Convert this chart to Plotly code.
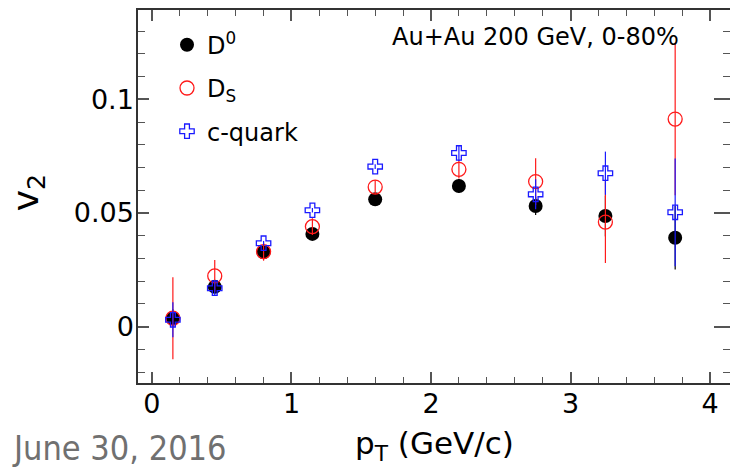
import plotly.graph_objects as go

# ---- data ----
pt = [0.15, 0.45, 0.80, 1.15, 1.60, 2.20, 2.75, 3.25, 3.75]

d0_v2 = [0.0037, 0.0175, 0.0327, 0.0408, 0.0560, 0.0619, 0.0531, 0.0487, 0.0391]
d0_err = [0.004, 0.002, 0.002, 0.002, 0.002, 0.003, 0.004, 0.009, 0.014]

ds_v2 = [0.0037, 0.0223, 0.0330, 0.0440, 0.0614, 0.0692, 0.0638, 0.0460, 0.0913]
ds_err = [0.018, 0.007, 0.004, 0.0037, 0.003, 0.004, 0.0103, 0.018, 0.0335]

cq_v2 = [0.0030, 0.0169, 0.0367, 0.0512, 0.0704, 0.0764, 0.0582, 0.0675, 0.0503]
cq_err = [0.0077, 0.003, 0.001, 0.001, 0.001, 0.0035, 0.0066, 0.0095, 0.0237]

x_ticks = [0, 1, 2, 3, 4]
y_ticks = [0, 0.05, 0.1]
y_tick_text = ["0", "0.05", "0.1"]

FONT = "DejaVu Sans"
RED = "#ff1a1a"
BLUE = "#1a1aff"

fig = go.Figure()

fig.add_trace(go.Scatter(
    x=pt, y=d0_v2, mode="markers", name="D<sup>0</sup>", legendgroup="d0",
    marker=dict(symbol="circle", size=14, color="black"),
    error_y=dict(type="data", array=d0_err, color="black", thickness=1.2, width=0),
))
fig.add_trace(go.Scatter(
    x=pt, y=ds_v2, mode="markers", name="D<sub>S</sub>", legendgroup="ds",
    marker=dict(symbol="circle-open", size=14, color=RED, line=dict(width=1.3, color=RED)),
    error_y=dict(type="data", array=ds_err, color=RED, thickness=1.2, width=0),
))
fig.add_trace(go.Scatter(
    x=pt, y=cq_v2, mode="markers", name="c-quark", legendgroup="cq",
    marker=dict(symbol="cross-open", size=12, color=BLUE, line=dict(width=1.3, color=BLUE)),
    error_y=dict(type="data", array=cq_err, color=BLUE, thickness=1.2, width=0),
))

axis_common = dict(showgrid=False, zeroline=False, showline=True, linecolor="#333333",
                   linewidth=1.5, ticks="inside", tickcolor="#555555", tickwidth=1.5)

fig.update_layout(
    width=730, height=468,
    margin=dict(l=138, r=0, t=10, b=85),
    paper_bgcolor="white", plot_bgcolor="white",
    font=dict(family=FONT, color="black"),
    xaxis=dict(
        range=[-0.1, 4.143], tickvals=x_ticks, ticktext=[str(v) for v in x_ticks],
        ticklen=11, mirror="ticks", ticklabelstandoff=-4,
        tickfont=dict(family=FONT, size=27, color="black"),
        minor=dict(dtick=0.2, tick0=0, ticks="inside", ticklen=6, tickcolor="#555555", tickwidth=1.2),
        **axis_common,
    ),
    yaxis=dict(
        range=[-0.0248, 0.1393], tickvals=y_ticks, ticktext=y_tick_text,
        ticklen=11, ticklabelstandoff=-3,
        tickfont=dict(family=FONT, size=27, color="black"),
        minor=dict(dtick=0.01, tick0=0, ticks="inside", ticklen=7, tickcolor="#555555", tickwidth=1.2),
        **axis_common,
    ),
    yaxis2=dict(
        overlaying="y", side="right", anchor="x", range=[-0.0248, 0.1393],
        tickvals=y_ticks, showticklabels=False, showgrid=False, zeroline=False,
        showline=False, ticks="inside", ticklen=16, tickcolor="#555555", tickwidth=1.5,
        minor=dict(dtick=0.01, tick0=0, ticks="inside", ticklen=7, tickcolor="#555555", tickwidth=1.2),
    ),
    showlegend=True,
    legend=dict(
        x=0.049, y=0.966, xanchor="left", yanchor="top",
        font=dict(family=FONT, size=24, color="black"),
        bgcolor="rgba(0,0,0,0)", traceorder="grouped", tracegroupgap=9,
    ),
)

# invisible helper trace so the right-hand tick axis is rendered
fig.add_trace(go.Scatter(x=[None], y=[None], yaxis="y2", showlegend=False, hoverinfo="skip"))

fig.add_annotation(
    text="Au+Au 200 GeV, 0-80%", xref="paper", yref="paper",
    x=0.425, y=0.928, xanchor="left", yanchor="middle", showarrow=False,
    font=dict(family=FONT, size=24, color="black"),
)
fig.add_annotation(
    text="v<sub>2</sub>", xref="paper", yref="paper", textangle=-90,
    x=-0.185, y=0.51, xanchor="center", yanchor="middle", showarrow=False,
    font=dict(family=FONT, size=36, color="black"),
)
fig.add_annotation(
    text="p<sub>T</sub> (GeV/c)", xref="paper", yref="paper",
    x=0.5, y=-0.168, xanchor="center", yanchor="middle", showarrow=False,
    font=dict(family=FONT, size=31, color="black"),
)
fig.add_annotation(
    text="June 30, 2016", xref="paper", yref="paper",
    x=-0.216, y=-0.234, xanchor="left", yanchor="bottom", showarrow=False,
    font=dict(family="DejaVu Sans Condensed", size=34, color="#707070"),
)

fig.write_html("out.html")
